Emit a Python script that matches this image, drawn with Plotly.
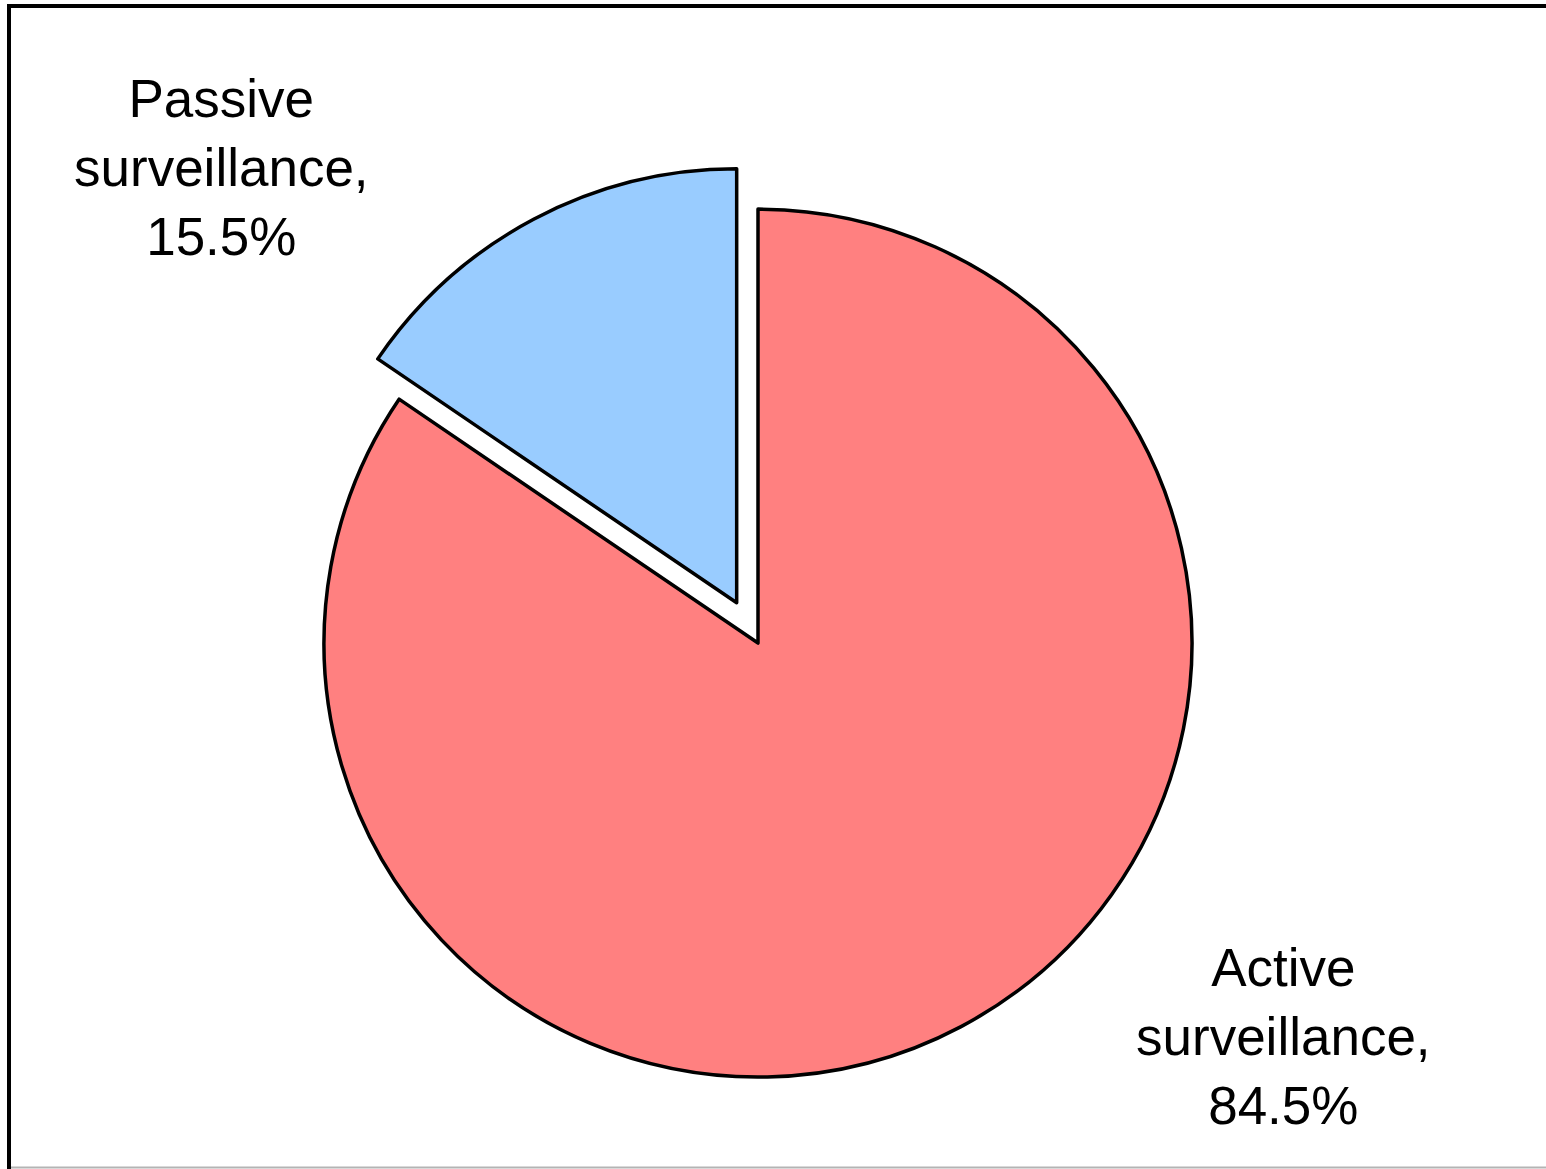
import plotly.graph_objects as go

labels = ["Active surveillance", "Passive surveillance"]
values = [84.5, 15.5]
colors = ["#FF8080", "#99CCFF"]
pulls = [0.0, 0.105]
label_x = [0.830, 0.143]
label_y = [0.113, 0.857]

W, H = 1546, 1169

fig = go.Figure(go.Pie(
    labels=labels,
    values=values,
    sort=False,
    direction="clockwise",
    rotation=0,
    pull=pulls,
    marker=dict(colors=colors, line=dict(color="black", width=3.5)),
    textinfo="none",
    showlegend=False,
    domain=dict(x=[0.0, 0.9806], y=[0.0397, 0.8601]),
))

for lab, v, xx, yy in zip(labels, values, label_x, label_y):
    a, b = lab.split(" ")
    fig.add_annotation(
        x=xx, y=yy, xref="paper", yref="paper",
        text=f"{a}<br>{b},<br>{v:.1f}%",
        showarrow=False, xanchor="center", yanchor="middle",
        font=dict(family="Liberation Sans, Arial", size=53, color="black"),
    )

fig.add_shape(type="rect", xref="paper", yref="paper",
              x0=9 / W, x1=1.02, y0=1 - 6 / H, y1=-0.02,
              line=dict(color="black", width=4), fillcolor="rgba(0,0,0,0)")
fig.add_shape(type="line", xref="paper", yref="paper",
              x0=11 / W, x1=1.0, y0=1.5 / H, y1=1.5 / H,
              line=dict(color="#b4b4b4", width=2))

fig.update_layout(
    width=W, height=H,
    margin=dict(l=0, r=0, t=0, b=0),
    paper_bgcolor="white", plot_bgcolor="white",
)

fig.write_html("out.html")
